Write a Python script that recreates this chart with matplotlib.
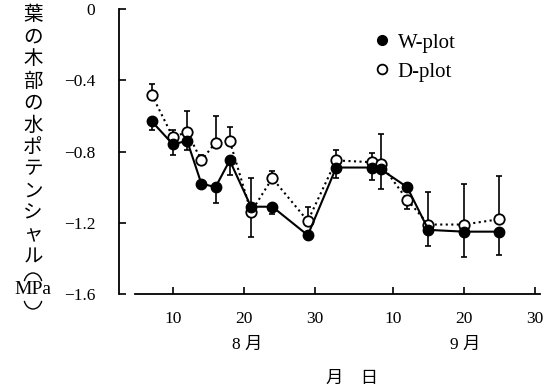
import numpy as np
from matplotlib import pyplot as plt
from matplotlib.patches import Arc

plt.rcParams['font.family'] = ['Liberation Serif', 'Noto Sans CJK JP', 'DejaVu Sans']

# day number counted from Aug 1 (Sep d -> 31 + d)
days = [7, 10, 12, 14, 16, 18, 21, 24, 29, 33, 38, 39.3, 43, 46, 51, 56]

w_plot = [-0.63, -0.76, -0.74, -0.98, -1.00, -0.85, -1.11, -1.11, -1.27,
          -0.89, -0.89, -0.90, -1.00, -1.24, -1.25, -1.25]
d_plot = [-0.48, -0.72, -0.69, -0.85, -0.75, -0.74, -1.14, -0.95, -1.19,
          -0.85, -0.86, -0.87, -1.07, -1.21, -1.21, -1.18]

# one-sided error bars (lower, upper)
w_err_lo = [0.05, 0.06, 0.05, 0, 0.09, 0.08, 0, 0.04, 0,
            0.06, 0.07, 0.11, 0, 0.09, 0.14, 0.13]
w_err_hi = [0, 0, 0, 0, 0, 0, 0.16, 0, 0,
            0, 0, 0, 0, 0, 0, 0]
d_err_lo = [0, 0, 0, 0, 0, 0, 0.14, 0, 0,
            0, 0, 0, 0.05, 0, 0, 0]
d_err_hi = [0.06, 0.04, 0.12, 0.03, 0.15, 0.08, 0, 0.04, 0.08,
            0.06, 0.05, 0.17, 0, 0.18, 0.23, 0.24]

xticks = [10, 20, 30, 41, 51, 61]
xticklabels = ['10', '20', '30', '10', '20', '30']
yticks = [0, -0.4, -0.8, -1.2, -1.6]
yticklabels = ['0', '\u22120.4', '\u22120.8', '\u22121.2', '\u22121.6']
ylabel_chars = list('葉の木部の水ポテンシャル')

CJK = ['Noto Sans CJK JP', 'DejaVu Sans']
W, H = 549, 390


def draw_err(ax, x, y, lo, hi):
    x = np.asarray(x); y = np.asarray(y)
    lo = np.asarray(lo); hi = np.asarray(hi)
    m = lo > 0
    ax.errorbar(x[m], y[m], yerr=[lo[m], np.zeros(m.sum())], fmt='none',
                ecolor='black', elinewidth=1.2, capsize=2.5, capthick=1.2, zorder=2)
    m = hi > 0
    ax.errorbar(x[m], y[m], yerr=[np.zeros(m.sum()), hi[m]], fmt='none',
                ecolor='black', elinewidth=1.2, capsize=2.5, capthick=1.2, zorder=2)


fig = plt.figure(figsize=(5.49, 3.90), dpi=100)
ax = fig.add_axes([119 / W, 96 / H, 423 / W, 285 / H])

draw_err(ax, days, w_plot, w_err_lo, w_err_hi)
draw_err(ax, days, d_plot, d_err_lo, d_err_hi)

d_line, = ax.plot(days, d_plot, ls=':', color='black', lw=1.5, marker='o', ms=7.5,
                  mfc='white', mec='black', mew=1.3, zorder=3)
w_line, = ax.plot(days, w_plot, ls='-', color='black', lw=1.5, marker='o', ms=7.5,
                  mfc='black', mec='black', zorder=4)

ax.set_xlim(2.4, 62)
ax.set_ylim(-1.6, 0)
ax.spines['top'].set_visible(False)
ax.spines['right'].set_visible(False)
ax.spines['left'].set_bounds(-1.6, 0)
ax.spines['bottom'].set_bounds(4.6, 61.7)
ax.spines['left'].set_linewidth(1.3)
ax.spines['bottom'].set_linewidth(1.3)

ax.set_xticks(xticks)
ax.set_xticklabels(xticklabels, fontsize=12.5)
ax.set_yticks(yticks)
ax.set_yticklabels(yticklabels, fontsize=12.5)
ax.tick_params(axis='x', direction='in', length=5, width=1.2, pad=12)
ax.tick_params(axis='y', direction='in', length=5, width=1.2, pad=17)

leg = fig.legend([w_line, d_line], ['W-plot', 'D-plot'], loc='upper left',
                 bbox_to_anchor=(376 / W, 1 - 33 / H), frameon=False, fontsize=15,
                 handlelength=0.6, handletextpad=0.45, labelspacing=0.45,
                 borderpad=0, borderaxespad=0)
for h in leg.legend_handles:
    h.set_linestyle('none')
    h.set_markersize(7)

# month labels
fig.text(247 / W, 1 - 345 / H, '8 月', ha='center', va='center', fontsize=12.5)
fig.text(465 / W, 1 - 345 / H, '9 月', ha='center', va='center', fontsize=12.5)
fig.text(352 / W, 1 - 378 / H, '月　日', ha='center', va='center', fontsize=12.5,
         family=CJK)

# vertical y label
for i, ch in enumerate(ylabel_chars):
    fig.text(33 / W, 1 - (15 + i * 22.0) / H, ch, ha='center', va='center',
             fontsize=14, family=CJK)
fig.text(33 / W, 1 - 290 / H, 'MPa', ha='center', va='center', fontsize=14)
# vertical parentheses around the unit
fig.add_artist(Arc((33 / W, 1 - 284 / H), 18 / W, 22 / H, theta1=25, theta2=155,
                   transform=fig.transFigure, color='black', lw=1.0))
fig.add_artist(Arc((33 / W, 1 - 298 / H), 18 / W, 22 / H, theta1=205, theta2=335,
                   transform=fig.transFigure, color='black', lw=1.0))

fig.savefig('out.png', dpi=100)
